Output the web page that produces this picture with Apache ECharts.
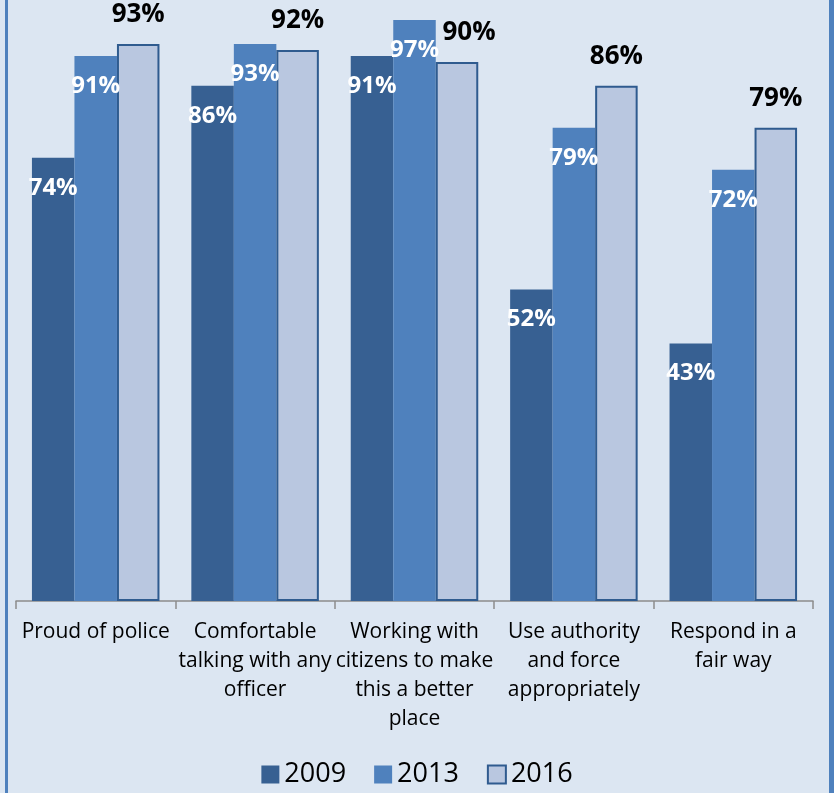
<!DOCTYPE html>
<html>
<head>
<meta charset="utf-8">
<script src="https://cdn.jsdelivr.net/npm/echarts@6/dist/echarts.min.js"></script>
<style>
  html, body { margin: 0; padding: 0; background: #dce6f2; }
  #wrap { position: relative; width: 834px; height: 793px; background: #dce6f2; overflow: hidden; }
  #chart { position: absolute; left: 0; top: 0; width: 834px; height: 793px; }
  .edge { position: absolute; top: 0; height: 793px; background: #4f81bd; }
</style>
</head>
<body>
<div id="wrap">
  <div id="chart"></div>
  <div class="edge" style="left:5px;width:3px;"></div>
  <div class="edge" style="left:829px;width:5px;"></div>
</div>
<script>
// Survey items (x-axis categories)
const categories = [
  'Proud of police',
  'Comfortable\ntalking with any\nofficer',
  'Working with\ncitizens to make\nthis a better\nplace',
  'Use authority\nand force\nappropriately',
  'Respond in a\nfair way'
];

// Percent agreeing, by survey year
const years = ['2009', '2013', '2016'];
const values2009 = [74, 86, 91, 52, 43];
const values2013 = [91, 93, 97, 79, 72];
const values2016 = [93, 92, 90, 86, 79];

const FONT = '"Open Sans", "Liberation Sans", sans-serif';

const whiteLabel = {
  show: true,
  position: 'insideTop',
  distance: 18,
  color: '#ffffff',
  fontFamily: FONT,
  fontWeight: 'bold',
  fontSize: 24,
  formatter: '{c}%'
};

// The 2016 label over "Working with citizens" sits a little to the right of its bar
const data2016 = values2016.map((v, i) =>
  i === 2 ? { value: v, label: { offset: [12, 0] } } : v
);

const chart = echarts.init(document.getElementById('chart'), null, { renderer: 'canvas' });

chart.setOption({
  backgroundColor: 'transparent',
  animation: false,
  grid: { left: 16, right: 21, top: 2, bottom: 192, containLabel: false },
  legend: {
    data: years,
    bottom: 0,
    left: 'center',
    icon: 'rect',
    itemWidth: 18,
    itemHeight: 18,
    itemGap: 28,
    textStyle: { fontFamily: FONT, fontSize: 27, color: '#000000' }
  },
  xAxis: {
    type: 'category',
    data: categories,
    axisLine: { lineStyle: { color: '#8c8c8c', width: 1.5 } },
    axisTick: { show: true, length: 8, lineStyle: { color: '#8c8c8c', width: 1.5 } },
    axisLabel: {
      interval: 0,
      margin: 17,
      color: '#000000',
      fontFamily: FONT,
      fontSize: 21,
      lineHeight: 29,
      align: 'center'
    }
  },
  yAxis: {
    type: 'value',
    min: 0,
    max: 100,
    show: false,
    splitLine: { show: false }
  },
  series: [
    {
      name: '2009',
      type: 'bar',
      data: values2009,
      barGap: '0%',
      barCategoryGap: '20%',
      itemStyle: { color: '#376092' },
      label: whiteLabel
    },
    {
      name: '2013',
      type: 'bar',
      data: values2013,
      barGap: '0%',
      barCategoryGap: '20%',
      itemStyle: { color: '#4f81bd' },
      label: whiteLabel
    },
    {
      name: '2016',
      type: 'bar',
      data: data2016,
      barGap: '0%',
      barCategoryGap: '20%',
      itemStyle: { color: '#b9c7e0', borderColor: '#2f5b8f', borderWidth: 2 },
      label: {
        show: true,
        position: 'top',
        distance: 16,
        color: '#000000',
        fontFamily: FONT,
        fontWeight: 'bold',
        fontSize: 26,
        formatter: '{c}%'
      }
    }
  ]
});
</script>
</body>
</html>
